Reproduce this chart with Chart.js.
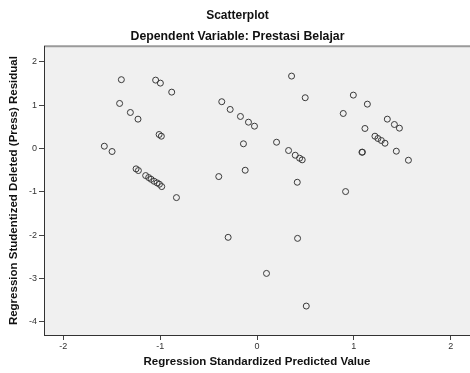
<!DOCTYPE html>
<html>
<head>
<meta charset="utf-8">
<script src="https://cdn.jsdelivr.net/npm/chart.js@4/dist/chart.umd.min.js"></script>
<style>
  html, body { margin: 0; padding: 0; background: #fff; }
  #wrap { width: 470px; height: 373px; }
</style>
</head>
<body>
<div id="wrap"><canvas id="scatter" width="470" height="373"></canvas></div>
<script>
const chartTitle = "Scatterplot";
const chartSubtitle = "Dependent Variable: Prestasi Belajar";
const xAxisTitle = "Regression Standardized Predicted Value";
const yAxisTitle = "Regression Studentized Deleted (Press) Residual";

const xTicks = [-2, -1, 0, 1, 2];
const yTicks = [2, 1, 0, -1, -2, -3, -4];

// standardized predicted values
const predicted = [
  -1.401, -1.047, -0.998, -0.881, -1.419, -1.308, -1.229, -1.011, -0.988,
  -1.577, -1.497, -1.249, -1.225, -1.150, -1.119, -1.094, -1.063, -1.032,
  -1.008, -0.984, -0.832, -0.364, -0.277, -0.171, -0.088, -0.026, -0.140,
  -0.122, -0.395, -0.298, 0.357, 0.498, 0.202, 0.326, 0.395, 0.440, 0.467,
  0.416, 0.419, 0.098, 0.509, 0.995, 1.140, 0.891, 1.346, 1.419, 1.471,
  1.115, 1.218, 1.249, 1.284, 1.322, 1.084, 1.089, 1.439, 1.564, 0.915
];
// studentized deleted residuals
const residuals = [
  1.587, 1.577, 1.508, 1.300, 1.039, 0.831, 0.677, 0.323, 0.284,
  0.053, -0.069, -0.469, -0.508, -0.624, -0.670, -0.709, -0.755, -0.792,
  -0.824, -0.878, -1.132, 1.079, 0.901, 0.739, 0.607, 0.515, 0.109,
  -0.501, -0.647, -2.048, 1.670, 1.171, 0.145, -0.046, -0.155, -0.224, -0.261,
  -0.778, -2.072, -2.880, -3.633, 1.231, 1.023, 0.808, 0.677, 0.554, 0.469,
  0.462, 0.284, 0.231, 0.185, 0.122, -0.085, -0.085, -0.062, -0.270, -0.993
];

const points = predicted.map((x, i) => ({ x: x, y: residuals[i] }));

const fontFamily = "Arial, 'Liberation Sans', sans-serif";

const plotFrame = {
  id: "plotFrame",
  beforeDraw(chart) {
    const a = chart.chartArea;
    const ctx = chart.ctx;
    ctx.save();
    ctx.fillStyle = "#f0f0f0";
    ctx.fillRect(a.left, a.top, a.right - a.left, a.bottom - a.top);
    ctx.strokeStyle = "#9a9a9a";
    ctx.lineWidth = 2;
    ctx.beginPath();
    ctx.moveTo(a.left, a.top);
    ctx.lineTo(a.right, a.top);
    ctx.stroke();
    ctx.restore();
  }
};

new Chart(document.getElementById("scatter"), {
  type: "scatter",
  data: {
    datasets: [{
      data: points,
      pointStyle: "circle",
      pointRadius: 3,
      pointHoverRadius: 3,
      backgroundColor: "rgba(0,0,0,0)",
      borderColor: "#3a3a3a",
      borderWidth: 1
    }]
  },
  options: {
    responsive: false,
    animation: false,
    layout: { autoPadding: false, padding: { left: 5, right: 0, top: 0, bottom: 0 } },
    plugins: {
      legend: { display: false },
      tooltip: { enabled: false },
      title: {
        display: true,
        text: chartTitle,
        color: "#111",
        font: { family: fontFamily, size: 12, weight: "bold" },
        padding: { top: 8, bottom: 3 }
      },
      subtitle: {
        display: true,
        text: chartSubtitle,
        color: "#111",
        font: { family: fontFamily, size: 12.3, weight: "bold" },
        padding: { top: 4, bottom: 2 }
      }
    },
    scales: {
      x: {
        type: "linear",
        min: -2.2,
        max: 2.2,
        afterBuildTicks: s => { s.ticks = xTicks.map(v => ({ value: v })); },
        afterFit: s => { s.height = 38; },
        grid: { drawOnChartArea: false, drawTicks: true, tickLength: 5, color: "#444" },
        border: { display: true, color: "#333", width: 1 },
        ticks: { color: "#333", font: { family: fontFamily, size: 9 }, padding: 1 },
        title: {
          display: true,
          text: xAxisTitle,
          color: "#111",
          font: { family: fontFamily, size: 11.5, weight: "bold" },
          padding: { top: 0, bottom: 4 }
        }
      },
      y: {
        type: "linear",
        min: -4.3,
        max: 2.36,
        afterBuildTicks: s => { s.ticks = yTicks.map(v => ({ value: v })); },
        afterFit: s => { s.width = 39; },
        grid: { drawOnChartArea: false, drawTicks: true, tickLength: 5, color: "#444" },
        border: { display: true, color: "#333", width: 1 },
        ticks: { color: "#333", font: { family: fontFamily, size: 9 }, padding: 2 },
        title: {
          display: true,
          text: yAxisTitle,
          color: "#111",
          font: { family: fontFamily, size: 11.5, weight: "bold" },
          padding: { top: 2, bottom: 0 }
        }
      }
    }
  },
  plugins: [plotFrame]
});
</script>
</body>
</html>
